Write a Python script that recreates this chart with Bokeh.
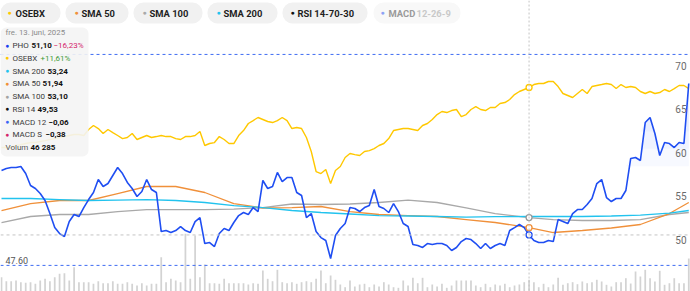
from bokeh.plotting import figure
from bokeh.models import Range1d, Label, BoxAnnotation, Span
from bokeh.embed import file_html
from bokeh.resources import INLINE
import numpy as np

W, H = 690, 291
FONT = "Roboto"

# ---------------- data ----------------
pho = [58.51, 58.74, 58.85, 58.85, 58.97, 58.16, 56.78, 56.44, 55.86, 55.06,
       53.56, 51.95, 51.26, 50.92, 52.64, 53.45, 53.22, 54.25, 55.17, 55.98,
       57.47, 56.67, 57.01, 57.93, 58.85, 58.16, 57.13, 56.44, 55.52, 56.09,
       57.47, 56.32, 55.98, 51.49, 51.61, 51.38, 51.61, 52.07, 51.61, 51.38,
       52.64, 53.10, 50.11, 50.23, 49.77, 51.26, 51.84, 51.61, 52.53, 53.33,
       53.68, 53.45, 54.25, 53.79, 57.36, 56.44, 56.67, 58.28, 57.24, 57.70,
       57.70, 55.98, 55.63, 53.10, 53.56, 51.49, 50.80, 50.46, 48.39, 51.03,
       51.84, 52.41, 54.25, 54.14, 53.79, 54.25, 54.48, 56.32, 54.37, 54.14,
       53.68, 54.71, 53.79, 52.41, 52.07, 50.00, 49.89, 49.66, 50.11, 50.00,
       50.11, 50.11, 49.89, 49.31, 49.66, 50.34, 50.69, 50.57, 50.11, 49.54,
       50.11, 49.54, 49.89, 50.11, 49.89, 51.61, 51.95, 52.30, 51.95, 51.10,
       50.46, 50.23, 50.23, 50.46, 50.34, 52.87, 52.64, 52.41, 53.56, 54.02,
       54.02, 54.60, 55.29, 57.01, 57.47, 55.40, 54.94, 55.29, 55.29, 56.21,
       59.89, 60.00, 59.66, 64.02, 64.60, 62.76, 60.23, 61.72, 61.61, 61.15,
       61.72, 61.61, 68.51]

osebx = [61.15, 61.15, 61.15, 61.38, 61.49, 61.61, 61.72, 61.72, 61.84, 61.95,
         62.07, 62.18, 62.30, 62.41, 62.53, 62.64, 62.64, 62.53, 63.22, 63.68,
         63.33, 62.76, 63.22, 62.87, 62.53, 62.18, 62.30, 62.76, 62.07, 62.30,
         62.53, 62.30, 62.41, 62.53, 62.41, 62.41, 62.18, 62.07, 62.41, 62.41,
         62.53, 62.99, 61.38, 61.61, 61.72, 62.41, 62.07, 61.61, 61.61, 62.53,
         63.10, 63.91, 64.25, 64.60, 64.37, 64.14, 64.02, 64.25, 64.60, 64.25,
         63.33, 63.45, 63.33, 62.30, 60.69, 58.39, 58.16, 58.62, 57.01, 58.51,
         58.97, 60.00, 60.46, 60.34, 60.23, 60.69, 60.80, 61.03, 61.38, 61.61,
         62.18, 63.10, 63.22, 63.33, 63.33, 63.22, 63.10, 63.68, 63.91, 64.37,
         64.94, 65.29, 65.17, 65.40, 65.52, 64.71, 64.94, 65.52, 65.86, 65.52,
         65.40, 65.75, 65.75, 66.21, 66.32, 66.67, 67.24, 67.59, 67.82, 68.05,
         68.39, 68.51, 68.51, 68.74, 68.74, 68.16, 67.36, 67.13, 66.90, 67.36,
         67.82, 67.36, 68.16, 68.28, 68.39, 68.51, 68.39, 67.93, 68.39, 68.05,
         68.16, 68.05, 67.59, 67.36, 67.59, 67.36, 67.47, 67.82, 67.59, 67.93,
         68.28, 68.28, 67.93]

sma_idx = [0, 6, 12, 18, 24, 30, 36, 42, 48, 54, 60, 66, 72, 78, 84, 90, 96,
           102, 109, 114, 120, 126, 132, 138, 142]
sma50 = [53.91, 54.71, 55.06, 55.06, 55.86, 56.67, 56.67, 55.98, 54.71, 54.20,
         54.25, 54.37, 53.79, 53.45, 53.33, 53.22, 52.87, 52.53, 51.94, 51.38,
         51.61, 51.90, 52.30, 53.56, 54.83]
sma100 = [52.53, 53.22, 53.45, 53.45, 53.79, 54.02, 54.02, 54.02, 54.08, 54.25,
          54.66, 54.60, 54.66, 54.83, 55.11, 54.83, 54.20, 53.56, 53.10, 52.87,
          52.76, 52.76, 52.87, 53.45, 53.68]
sma200 = [55.29, 55.29, 55.17, 55.06, 55.11, 55.17, 55.06, 54.83, 54.48, 54.25,
          53.91, 53.68, 53.51, 53.33, 53.28, 53.22, 53.16, 53.20, 53.24, 53.22,
          53.22, 53.28, 53.39, 53.62, 53.91]

volume = [56600, 40700, 40700, 43500, 36800, 34400, 36800, 30500, 43500, 50200,
          40700, 56600, 70000, 72400, 43500, 96100, 36800, 36800, 36800, 30500,
          40700, 32800, 32800, 40700, 30500, 30500, 36800, 30500, 23700, 32800,
          23700, 30500, 30500, 135700, 36800, 50200, 43500, 36800, 228300, 50200,
          221500, 56600, 106800, 32800, 32800, 30500, 50200, 32800, 32800, 32800,
          32800, 27700, 32800, 30500, 83100, 50200, 40700, 85800, 36800, 32800,
          36800, 30500, 36800, 40700, 36800, 50200, 83100, 32800, 63300, 46300,
          27700, 17000, 43500, 19800, 27700, 30500, 17000, 27700, 19800, 36800,
          27700, 17000, 14600, 43500, 23700, 54200, 32800, 54200, 17000, 27700,
          19800, 30500, 14600, 23700, 43500, 43500, 43500, 43500, 23700, 17000,
          30500, 17000, 27700, 23700, 30500, 17000, 23700, 27700, 36800, 46285,
          36800, 17000, 30500, 17000, 27700, 54200, 26500, 32800, 36800, 28900,
          39600, 32800, 36800, 46300, 39600, 26500, 19800, 36800, 36800, 52600,
          31600, 79100, 59300, 85800, 52600, 39600, 81900, 26500, 32800, 52600,
          32800, 32800, 130500]

idx = list(range(len(pho)))
price_ticks = [50, 55, 60, 65, 70]
period_high = 71.85
period_low = 47.60
hover_i = 109
hover_date = "fre. 13. juni, 2025"
pho_change = "\u221216,23%"
osebx_change = "+11,61%"
rsi14 = "49,53"
macd12 = "\u22120,06"
macds = "\u22120,38"
vol_text = "46 285"

C_PHO = "#1f4ef2"
C_OSEBX = "#ffc800"
C_SMA50 = "#f0903a"
C_SMA100 = "#a9a9a9"
C_SMA200 = "#22c3ee"

def fmt(v):
    return f"{v:.2f}".replace(".", ",")

# ---------------- figure ----------------
p = figure(width=W, height=H, x_range=Range1d(-0.207, 142.355),
           y_range=Range1d(44.60, 78.05), output_backend="svg",
           toolbar_location=None, x_axis_location=None, y_axis_location=None,
           min_border=0, outline_line_color=None,
           background_fill_color="white", border_fill_color="white")
p.xgrid.visible = False
p.ygrid.visible = False

p.extra_y_ranges = {"vol": Range1d(0, H * 3956)}
p.vbar(x=idx, top=volume, bottom=0, width=0.36, y_range_name="vol",
       fill_color="#d3d3d3", line_color=None)

# light fill under price at high levels
pho_arr = np.array(pho)
for lvl in [59.0, 61.0, 63.0]:
    p.varea(x=idx, y1=lvl, y2=np.maximum(pho_arr, lvl), fill_color=C_PHO,
            fill_alpha=0.035)

# min / max and crosshair lines
p.add_layout(Span(location=period_high, dimension="width", line_color="#3f6df2",
                  line_dash="3 3", line_width=1))
p.add_layout(Span(location=period_low, dimension="width", line_color="#3f6df2",
                  line_dash="3 3", line_width=1))
p.add_layout(Span(location=pho[hover_i], dimension="width", line_color="#c4c4c4",
                  line_dash="3 3", line_width=1))
p.add_layout(Span(location=hover_i, dimension="height", line_color="#c4c4c4",
                  line_dash="2 2", line_width=1))

p.line(sma_idx, sma100, line_color=C_SMA100, line_width=1.3)
p.line(sma_idx, sma50, line_color=C_SMA50, line_width=1.3)
p.line(sma_idx, sma200, line_color=C_SMA200, line_width=1.3)
p.line(idx, osebx, line_color=C_OSEBX, line_width=1.4)
p.line(idx, pho, line_color=C_PHO, line_width=1.6)

hv = sma_idx.index(hover_i)
p.scatter([hover_i] * 4, [osebx[hover_i], sma100[hv], sma50[hv], pho[hover_i]],
          size=6, fill_color="white",
          line_color=[C_OSEBX, "#999999", C_SMA50, C_PHO], line_width=1.3)

# tick labels (right)
for t in price_ticks:
    p.add_layout(Label(x=686, x_units="screen", y=t, text=str(t), text_align="right",
                       text_baseline="bottom", y_offset=1, text_color="#6b6b6b",
                       text_font=FONT, text_font_size="10px"))
p.add_layout(Label(x=5, x_units="screen", y=period_low, text=f"{period_low:.2f}",
                   text_align="left", text_baseline="bottom", y_offset=1,
                   text_color="#555555", text_font=FONT, text_font_size="9px"))


def box(l, r, t, b, fill, alpha=1.0, radius=10):
    p.add_layout(BoxAnnotation(left=l, right=r, top=H - t, bottom=H - b,
                               left_units="screen", right_units="screen",
                               top_units="screen", bottom_units="screen",
                               fill_color=fill, fill_alpha=alpha, line_color=None,
                               border_radius=radius))


def lab(x, ytop, text, color, size, bold=False, align="left"):
    p.add_layout(Label(x=x, y=H - ytop, x_units="screen", y_units="screen",
                       text=text, text_color=color, text_font=FONT,
                       text_font_size=f"{size}px",
                       text_font_style="bold" if bold else "normal",
                       text_align=align, text_baseline="middle"))


# top pills
pills = [
    (0, 60, 9, 15, "OSEBX", C_OSEBX),
    (65, 128, 76, 81, "SMA 50", C_SMA50),
    (133, 202, 144, 149, "SMA 100", C_SMA100),
    (207, 277, 218, 223, "SMA 200", C_SMA200),
    (282, 367, 292, 297, "RSI 14-70-30", "#111111"),
]
for l, r, dx, tx, txt, col in pills:
    box(l, r, 2, 23, "#f1f1f1")
    lab(dx, 12.5, "\u25cf", col, 7, align="center")
    lab(tx, 12.5, txt, "#1e1e1e", 9.4, bold=True)
box(373, 460, 2, 23, "#f8f8f8")
lab(382, 12.5, "\u25cf", "#8da2f4", 7, align="center")
lab(388, 12.5, "MACD", "#9a9a9a", 9.4, bold=True)
lab(416, 12.5, "12-26-9", "#c9c9c9", 9.4, bold=True)

# tooltip
box(0, 88, 27, 156, "#f4f4f4", alpha=0.9, radius=6)
lab(5, 31.5, hover_date, "#8a8a8a", 7.8)
rows = [
    ("#1a3fef", "PHO", 31, fmt(pho[hover_i]), 53, pho_change, "#d4246b"),
    (C_OSEBX, "OSEBX", None, None, 40, osebx_change, "#3d9b36"),
    (C_SMA200, "SMA 200", 47, fmt(sma200[hv]), None, None, None),
    (C_SMA50, "SMA 50", 42, fmt(sma50[hv]), None, None, None),
    ("#a3a3a3", "SMA 100", 47, fmt(sma100[hv]), None, None, None),
    ("#111111", "RSI 14", 37, rsi14, None, None, None),
    ("#3b66f5", "MACD 12", 48, macd12, None, None, None),
    ("#d4246b", "MACD S", 45, macds, None, None, None),
]
for k, (dc, name, vx, val, cx, ch, cc) in enumerate(rows):
    yy = 45 + k * 12.75
    lab(7, yy, "\u25cf", dc, 6.5, align="center")
    lab(12, yy, name, "#3a3a3a", 8)
    if val is not None:
        lab(vx, yy, val, "#111111", 8, bold=True)
    if ch is not None:
        lab(cx, yy, ch, cc, 8)
yy = 45 + 8 * 12.75
lab(5, yy, "Volum", "#555555", 8)
lab(30, yy, vol_text, "#111111", 8, bold=True)

open("out.html", "w").write(file_html(p, INLINE))
